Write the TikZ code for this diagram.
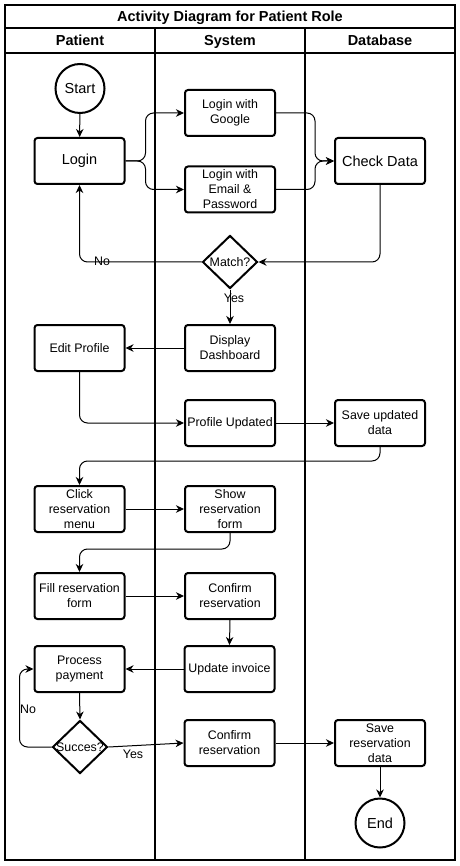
\documentclass[tikz,border=0pt]{standalone}
\usepackage{fontspec}
\setmainfont{Liberation Sans}
\usetikzlibrary{arrows.meta,shapes.geometric}
\begin{document}
\begin{tikzpicture}[x=1pt,y=-1pt,
  box/.style={draw,line width=2pt,rounded corners=3pt,minimum width=90pt,minimum height=46pt,align=center,font=\fontsize{12.4}{15}\selectfont,inner sep=1pt},
  bigbox/.style={box,font=\fontsize{14.5}{17}\selectfont},
  term/.style={draw,line width=2pt,circle,minimum size=49pt,inner sep=0pt,font=\fontsize{14.5}{17}\selectfont},
  dec/.style={draw,line width=2pt,diamond,minimum width=55pt,minimum height=53pt,inner sep=0pt},
  arr/.style={-{Stealth[length=8pt,width=7.5pt,inset=2.5pt]},line width=1pt,rounded corners=8pt},
  frame/.style={line width=1.3pt},
  lbl/.style={font=\fontsize{12.4}{14}\selectfont,inner sep=0pt},
  head/.style={font=\bfseries\fontsize{14.5}{16}\selectfont,inner sep=0pt,anchor=base}]
\useasboundingbox (0,0) rectangle (459,866);
% frame
\draw[frame] (5,5) rectangle (455,860);
\draw[frame] (5,28) -- (455,28);
\draw[frame] (5,53) -- (455,53);
\draw[frame] (155,28) -- (155,860);
\draw[frame] (305,28) -- (305,860);
\node[head] (title) at (230,21.5) {Activity Diagram for Patient Role};
\node[head] (hp) at (80,46) {Patient};
\node[head] (hs) at (230,46) {System};
\node[head] (hd) at (380,46) {Database};
% nodes
\node[term] (start) at (80,88.5) {Start};
\node[bigbox] (login) at (79.5,161) {Login};
\node[box] (google) at (230,113) {Login with\\Google};
\node[box] (email) at (230,189.5) {Login with\\Email \&\\Password};
\node[bigbox] (check) at (380,161) {Check Data};
\node[dec] (match) at (230,262) {};
\node[lbl] (matcht) at (match) {Match?};
\node[box] (display) at (230,348) {Display\\Dashboard};
\node[box] (edit) at (79.5,348) {Edit Profile};
\node[box] (profupd) at (230,423) {Profile Updated};
\node[box] (saveupd) at (380,423) {Save updated\\data};
\node[box] (click) at (79.5,509) {Click\\reservation\\menu};
\node[box] (show) at (230,509) {Show\\reservation\\form};
\node[box] (fill) at (79.5,596) {Fill reservation\\form};
\node[box] (confirm) at (230,596) {Confirm\\reservation};
\node[box] (invoice) at (229.5,669) {Update invoice};
\node[box] (pay) at (79.5,669) {Process\\payment};
\node[dec] (succ) at (80,747) {};
\node[lbl] (succt) at (succ) {Succes?};
\node[box] (confirmb) at (229.5,743) {Confirm\\reservation};
\node[box] (saveres) at (380,743) {Save\\reservation\\data};
\node[term] (end) at (380,823) {End};
% labels
\node[lbl] (no1) at (102,261) {No};
\node[lbl] (yes1) at (234,298) {Yes};
\node[lbl] (no2) at (28,709) {No};
\node[lbl] (yes2) at (133,754) {Yes};
% connectors
\draw[arr] (start) -- (login);
\draw[arr] (login.east) -- ++(20,0) |- (google.west);
\draw[arr] (login.east) -- ++(20,0) |- (email.west);
\draw[arr] (google.east) -- ++(39,0) |- (check.west);
\draw[arr] (email.east) -- ++(39,0) |- (check.west);
\draw[arr] (check.south) |- (match.east);
\draw[arr] (match.west) -| (login.south);
\draw[arr] (match.south) -- (display.north);
\draw[arr] (display.west) -- (edit.east);
\draw[arr] (edit.south) |- (profupd.west);
\draw[arr] (profupd.east) -- (saveupd.west);
\draw[arr] (saveupd.south) -- ++(0,14) -| (click.north);
\draw[arr] (click.east) -- (show.west);
\draw[arr] (show.south) -- ++(0,16) -| (fill.north);
\draw[arr] (fill.east) -- (confirm.west);
\draw[arr] (confirm.south) -- (invoice.north);
\draw[arr] (invoice.west) -- (pay.east);
\draw[arr] (pay.south) -- (succ.north);
\draw[arr] (succ.west) -- ++(-32,0) |- (pay.west);
\draw[arr] (succ.east) -- (confirmb.west);
\draw[arr] (confirmb.east) -- (saveres.west);
\draw[arr] (saveres.south) -- (end.north);
\end{tikzpicture}
\end{document}
